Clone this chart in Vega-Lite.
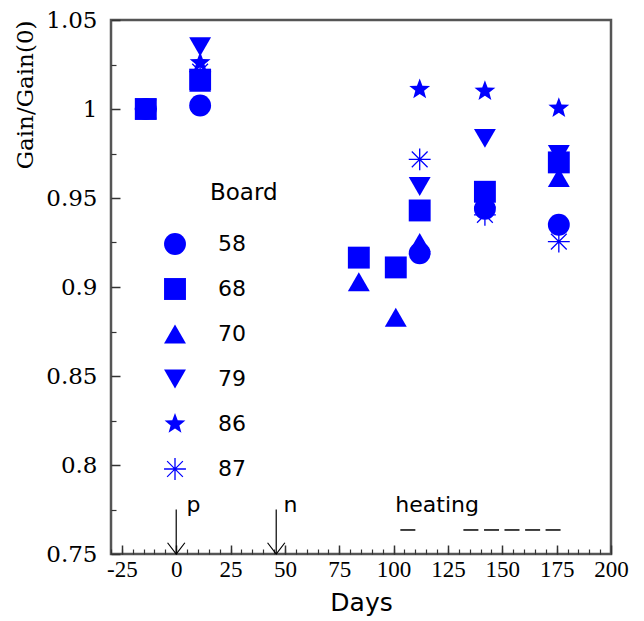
{
  "$schema": "https://vega.github.io/schema/vega-lite/v6.json",
  "width": 500,
  "height": 534,
  "autosize": {"type": "none"},
  "padding": {"left": 111, "top": 20, "right": 33, "bottom": 67},
  "background": "white",
  "view": {"stroke": "#555", "strokeWidth": 2.5},
  "config": {"view": {"stroke": "#555", "strokeWidth": 2.5}},
  "datasets": {
    "gains": [
      {"board": "58", "day": -14, "gain": 1.0},
      {"board": "58", "day": 11, "gain": 1.002},
      {"board": "58", "day": 112, "gain": 0.919},
      {"board": "58", "day": 142, "gain": 0.944},
      {"board": "58", "day": 176, "gain": 0.935},
      {"board": "70", "day": -14, "gain": 1.0},
      {"board": "70", "day": 11, "gain": 1.015},
      {"board": "70", "day": 84, "gain": 0.903},
      {"board": "70", "day": 101, "gain": 0.883},
      {"board": "70", "day": 112, "gain": 0.925},
      {"board": "70", "day": 142, "gain": 0.95},
      {"board": "70", "day": 176, "gain": 0.9615},
      {"board": "79", "day": -14, "gain": 1.0},
      {"board": "79", "day": 11, "gain": 1.035},
      {"board": "79", "day": 112, "gain": 0.9565},
      {"board": "79", "day": 142, "gain": 0.9835},
      {"board": "79", "day": 176, "gain": 0.9745},
      {"board": "86", "day": -14, "gain": 1.0},
      {"board": "86", "day": 11, "gain": 1.026},
      {"board": "86", "day": 112, "gain": 1.011},
      {"board": "86", "day": 142, "gain": 1.010},
      {"board": "86", "day": 176, "gain": 1.0005},
      {"board": "87", "day": -14, "gain": 1.0},
      {"board": "87", "day": 11, "gain": 1.021},
      {"board": "87", "day": 112, "gain": 0.9717},
      {"board": "87", "day": 142, "gain": 0.9405},
      {"board": "87", "day": 176, "gain": 0.9255},
      {"board": "68", "day": -14, "gain": 1.0},
      {"board": "68", "day": 11, "gain": 1.0165},
      {"board": "68", "day": 84, "gain": 0.9165},
      {"board": "68", "day": 101, "gain": 0.911},
      {"board": "68", "day": 112, "gain": 0.943},
      {"board": "68", "day": 142, "gain": 0.9535},
      {"board": "68", "day": 176, "gain": 0.970}
    ],
    "arrows": [
      {"day": 0, "top": 0.775, "bottom": 0.75},
      {"day": 46, "top": 0.775, "bottom": 0.75}
    ],
    "notes": [
      {"day": 8, "gain": 0.7736, "label": "p"},
      {"day": 52.5, "gain": 0.7736, "label": "n"},
      {"day": 120, "gain": 0.7736, "label": "heating"}
    ],
    "heating": [
      {"start": 103.1, "end": 110, "level": 0.7635},
      {"start": 132.1, "end": 139, "level": 0.7635},
      {"start": 141.6, "end": 148.5, "level": 0.7635},
      {"start": 151, "end": 157.9, "level": 0.7635},
      {"start": 160.5, "end": 167.4, "level": 0.7635},
      {"start": 169.9, "end": 176.8, "level": 0.7635}
    ]
  },
  "layer": [
    {
      "data": {"name": "gains"},
      "mark": {"type": "point", "filled": true, "color": "#0000ff", "fillOpacity": 1, "opacity": 1, "size": 480},
      "encoding": {
        "x": {
          "field": "day", "type": "quantitative",
          "scale": {"domain": [-30, 200], "nice": false, "zero": false},
          "axis": {
            "orient": "bottom",
            "values": [-25, 0, 25, 50, 75, 100, 125, 150, 175, 200],
            "labelExpr": "'' + datum.value",
            "ticks": false, "domain": false, "grid": false,
            "labelFont": "Liberation Serif", "labelFontSize": 23, "labelColor": "black",
            "labelPadding": 4, "labelOverlap": false, "labelFlush": false,
            "title": "Days", "titleFont": "DejaVu Sans", "titleFontSize": 25,
            "titleFontWeight": "normal", "titleColor": "black", "titlePadding": 9
          }
        },
        "y": {
          "field": "gain", "type": "quantitative",
          "scale": {"domain": [0.75, 1.05], "nice": false, "zero": false},
          "axis": {
            "orient": "left",
            "values": [0.75, 0.8, 0.85, 0.9, 0.95, 1, 1.05],
            "format": "~g",
            "ticks": false, "domain": false, "grid": false,
            "labelFont": "DejaVu Serif", "labelFontSize": 23, "labelColor": "black",
            "labelPadding": 14, "labelOverlap": false, "labelFlush": false,
            "title": "Gain/Gain(0)", "titleFont": "DejaVu Serif", "titleFontSize": 23,
            "titleFontWeight": "normal", "titleColor": "black", "titleAnchor": "end", "titlePadding": 8
          }
        },
        "shape": {
          "field": "board", "type": "nominal",
          "scale": {
            "domain": ["58", "68", "70", "79", "86", "87"],
            "range": [
              "circle", "square", "triangle-up", "triangle-down",
              "M0,-1L0.247,-0.34L0.951,-0.309L0.399,0.13L0.588,0.809L0,0.42L-0.588,0.809L-0.399,0.13L-0.951,-0.309L-0.247,-0.34Z",
              "M-0.06,-1L0.06,-1L0.06,1L-0.06,1ZM-1,-0.06L1,-0.06L1,0.06L-1,0.06ZM-0.68,-0.76L0.76,0.68L0.68,0.76L-0.76,-0.68ZM-0.76,0.68L0.68,-0.76L0.76,-0.68L-0.68,0.76Z"
            ]
          },
          "legend": {
            "orient": "none", "legendX": 99, "legendY": 162,
            "title": "Board", "titleFont": "DejaVu Sans", "titleFontSize": 23, "titleFontWeight": "normal",
            "titleColor": "black", "titleAnchor": "start", "titleAlign": "left", "titlePadding": 28,
            "labelFont": "DejaVu Sans", "labelFontSize": 22, "labelColor": "black",
            "symbolOffset": -46, "labelOffset": 32,
            "symbolSize": 480, "symbolFillColor": "#0000ff", "symbolStrokeWidth": 0,
            "symbolOpacity": 1, "rowPadding": 23, "padding": 0
          }
        }
      }
    },
    {
      "data": {"name": "arrows"},
      "mark": {"type": "rule", "color": "black", "strokeWidth": 1.2},
      "encoding": {
        "x": {"field": "day", "type": "quantitative",
          "axis": {"orient": "bottom", "values": [-25, 0, 25, 50, 75, 100, 125, 150, 175, 200],
            "labels": false, "domain": false, "grid": false, "ticks": true, "offset": -9,
            "tickSize": 9, "tickColor": "#333", "tickWidth": 1.5, "title": null}},
        "y": {"field": "top", "type": "quantitative",
          "axis": {"orient": "left", "values": [0.75, 0.8, 0.85, 0.9, 0.95, 1, 1.05],
            "labels": false, "domain": false, "grid": false, "ticks": true, "offset": -9,
            "tickSize": 9, "tickColor": "#333", "tickWidth": 1.5, "title": null}},
        "y2": {"field": "bottom"}
      }
    },
    {
      "data": {"name": "arrows"},
      "mark": {"type": "point", "shape": "M-1,-1.3L0,0L1,-1.3", "filled": false, "stroke": "black", "strokeWidth": 1.2, "size": 300, "opacity": 1},
      "encoding": {
        "x": {"field": "day", "type": "quantitative", "axis": null},
        "y": {"field": "bottom", "type": "quantitative", "axis": null}
      }
    },
    {
      "data": {"name": "notes"},
      "mark": {"type": "text", "font": "DejaVu Sans", "fontSize": 22, "color": "black", "align": "center", "baseline": "alphabetic"},
      "encoding": {
        "x": {"field": "day", "type": "quantitative", "axis": null},
        "y": {"field": "gain", "type": "quantitative", "axis": null},
        "text": {"field": "label"}
      }
    },
    {
      "data": {"name": "heating"},
      "mark": {"type": "rule", "color": "black", "strokeWidth": 1.5},
      "encoding": {
        "x": {"field": "start", "type": "quantitative",
          "axis": {"orient": "bottom",
            "values": [-30, -25, -20, -15, -10, -5, 0, 5, 10, 15, 20, 25, 30, 35, 40, 45, 50, 55, 60, 65, 70, 75, 80, 85, 90, 95, 100, 105, 110, 115, 120, 125, 130, 135, 140, 145, 150, 155, 160, 165, 170, 175, 180, 185, 190, 195],
            "labels": false, "domain": false, "grid": false, "ticks": true, "offset": -5,
            "tickSize": 5, "tickColor": "#333", "tickWidth": 1.2, "title": null}},
        "x2": {"field": "end"},
        "y": {"field": "level", "type": "quantitative",
          "axis": {"orient": "left", "values": [0.775, 0.825, 0.875, 0.925, 0.975, 1.025],
            "labels": false, "domain": false, "grid": false, "ticks": true, "offset": -5,
            "tickSize": 5, "tickColor": "#333", "tickWidth": 1.2, "title": null}}
      }
    }
  ],
  "resolve": {"axis": {"x": "independent", "y": "independent"}}
}
